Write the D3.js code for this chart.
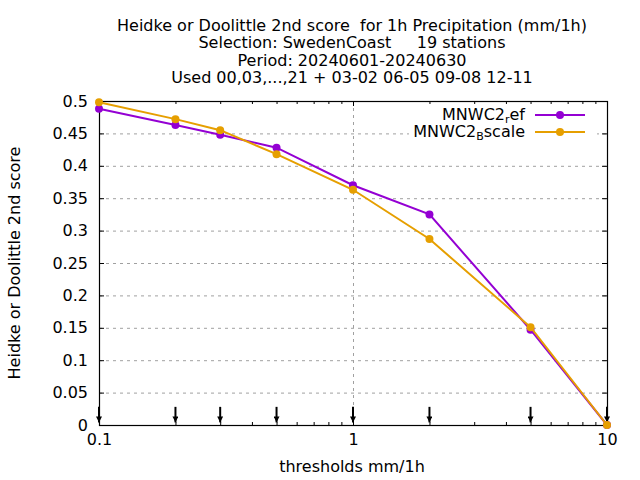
<!DOCTYPE html>
<html lang="en">
<head>
    <meta charset="UTF-8">
    <title>Heidke score</title>
    <script src="https://d3js.org/d3.v7.min.js"></script>
    <style>
        body { margin: 0; background: #fff; }
        text { font-family: "DejaVu Sans", sans-serif; fill: #000; white-space: pre; }
    </style>
</head>
<body>
<script>
    // thresholds (mm/1h) and scores per experiment
    var thresholds = [0.1, 0.2, 0.3, 0.5, 1, 2, 5, 10];
    var mnwcRef    = [0.488, 0.463, 0.448, 0.428, 0.370, 0.325, 0.147, 0.0];
    var mnwcBscale = [0.498, 0.472, 0.455, 0.418, 0.363, 0.287, 0.151, 0.0];
    var yTicks = [0, 0.05, 0.1, 0.15, 0.2, 0.25, 0.3, 0.35, 0.4, 0.45, 0.5];
    var xTicks = [0.1, 1, 10];
    var titleLines = [
        'Heidke or Doolittle 2nd score  for 1h Precipitation (mm/1h)',
        'Selection: SwedenCoast     19 stations',
        'Period: 20240601-20240630',
        'Used 00,03,...,21 + 03-02 06-05 09-08 12-11'
    ];

    var width = 640, height = 480;
    var plot = {left: 99, right: 607, top: 101, bottom: 425};
    var fontSize = '16px';

    var svg = d3.select('body').append('svg')
            .attr('width', width)
            .attr('height', height);

    var x = d3.scaleLog().domain([0.1, 10]).range([plot.left, plot.right]);
    var y = d3.scaleLinear().domain([0, 0.5]).range([plot.bottom, plot.top]);

    // minor ticks for the log axis
    var minor = [];
    [0.1, 1].forEach(function(dec) {
        for (var k = 2; k <= 9; k++) minor.push(dec * k);
    });

    // grid
    var grid = svg.append('g')
            .attr('stroke', '#a0a0a0')
            .attr('stroke-width', 1)
            .attr('stroke-dasharray', '3,4');
    grid.selectAll('line.h').data(yTicks.slice(1, -1)).enter().append('line')
            .attr('x1', plot.left).attr('x2', plot.right)
            .attr('y1', function(d) { return y(d) + 0.5; })
            .attr('y2', function(d) { return y(d) + 0.5; });
    grid.append('line')
            .attr('x1', x(1) + 0.5).attr('x2', x(1) + 0.5)
            .attr('y1', plot.top).attr('y2', plot.bottom);

    // axes: ticks point inward like gnuplot
    var fmt = function(d) { return d3.format('~g')(d); };
    var yAxis = svg.append('g')
            .attr('transform', 'translate(' + plot.left + ',0)')
            .call(d3.axisLeft(y).tickValues(yTicks).tickSize(-5).tickPadding(11).tickFormat(fmt));
    var yAxisR = svg.append('g')
            .attr('transform', 'translate(' + plot.right + ',0)')
            .call(d3.axisRight(y).tickValues(yTicks).tickSize(-5).tickFormat(''));
    var xAxis = svg.append('g')
            .attr('transform', 'translate(0,' + plot.bottom + ')')
            .call(d3.axisBottom(x).tickValues(xTicks).tickSize(-5).tickPadding(9).tickFormat(fmt));
    var xAxisMinor = svg.append('g')
            .attr('transform', 'translate(0,' + plot.bottom + ')')
            .call(d3.axisBottom(x).tickValues(minor).tickSize(-3).tickFormat(''));
    var xAxisTop = svg.append('g')
            .attr('transform', 'translate(0,' + plot.top + ')')
            .call(d3.axisTop(x).tickValues(xTicks).tickSize(-5).tickFormat(''));
    var xAxisTopMinor = svg.append('g')
            .attr('transform', 'translate(0,' + plot.top + ')')
            .call(d3.axisTop(x).tickValues(minor).tickSize(-3).tickFormat(''));

    [yAxis, yAxisR, xAxis, xAxisMinor, xAxisTop, xAxisTopMinor].forEach(function(a) {
        a.select('.domain').remove();
        a.selectAll('line').attr('stroke', '#000');
        a.selectAll('text').attr('font-size', fontSize);
    });

    // border
    svg.append('rect')
            .attr('x', plot.left + 0.5).attr('y', plot.top + 0.5)
            .attr('width', plot.right - plot.left).attr('height', plot.bottom - plot.top)
            .attr('fill', 'none').attr('stroke', '#000').attr('stroke-width', 1.2);

    // threshold arrows
    svg.append('defs').append('marker')
            .attr('id', 'head')
            .attr('viewBox', '0 0 10 10')
            .attr('refX', 10).attr('refY', 5)
            .attr('markerWidth', 3).attr('markerHeight', 3)
            .attr('markerUnits', 'strokeWidth')
            .attr('orient', 'auto')
            .append('path').attr('d', 'M0,0 L10,5 L0,10 z').attr('fill', '#000');
    svg.append('g').selectAll('line').data(thresholds).enter().append('line')
            .attr('x1', function(d) { return x(d); })
            .attr('x2', function(d) { return x(d); })
            .attr('y1', y(0.028))
            .attr('y2', y(0.004))
            .attr('stroke', '#000').attr('stroke-width', 2)
            .attr('marker-end', 'url(#head)');

    // series
    var series = [
        {name: ['MNWC2', 'r', 'ef'], values: mnwcRef, color: '#9400d3'},
        {name: ['MNWC2', 'B', 'scale'], values: mnwcBscale, color: '#e69f00'}
    ];
    var line = d3.line()
            .x(function(d) { return x(d[0]); })
            .y(function(d) { return y(d[1]); });

    // legend background (opaque key)
    var legendY = [115, 132];
    svg.append('rect')
            .attr('x', 409).attr('y', 105).attr('width', 188).attr('height', 36)
            .attr('fill', '#fff');

    series.forEach(function(s, i) {
        var pts = thresholds.map(function(t, j) { return [t, s.values[j]]; });
        svg.append('path')
                .datum(pts)
                .attr('d', line)
                .attr('fill', 'none')
                .attr('stroke', s.color)
                .attr('stroke-width', 2);
        svg.append('g').selectAll('circle').data(pts).enter().append('circle')
                .attr('cx', function(d) { return x(d[0]); })
                .attr('cy', function(d) { return y(d[1]); })
                .attr('r', 4)
                .attr('fill', s.color);

        // legend entry
        var ly = legendY[i];
        var t = svg.append('text')
                .attr('x', 525).attr('y', ly + 5)
                .attr('text-anchor', 'end')
                .attr('font-size', fontSize);
        t.append('tspan').text(s.name[0]);
        t.append('tspan').attr('dy', 3).attr('font-size', '11px').text(s.name[1]);
        t.append('tspan').attr('dy', -3).text(s.name[2]);
        svg.append('line')
                .attr('x1', 535).attr('x2', 585)
                .attr('y1', ly).attr('y2', ly)
                .attr('stroke', s.color).attr('stroke-width', 2);
        svg.append('circle')
                .attr('cx', 560).attr('cy', ly).attr('r', 4)
                .attr('fill', s.color);
    });

    // titles
    svg.append('g').selectAll('text').data(titleLines).enter().append('text')
            .attr('x', 352)
            .attr('y', function(d, i) { return 31 + i * 17.4; })
            .attr('text-anchor', 'middle')
            .attr('font-size', fontSize)
            .text(function(d) { return d; });

    svg.append('text')
            .attr('x', 352).attr('y', 472)
            .attr('text-anchor', 'middle')
            .attr('font-size', fontSize)
            .text('thresholds mm/1h');

    svg.append('text')
            .attr('transform', 'translate(20,263) rotate(-90)')
            .attr('text-anchor', 'middle')
            .attr('font-size', fontSize)
            .text('Heidke or Doolittle 2nd score');
</script>
</body>
</html>
